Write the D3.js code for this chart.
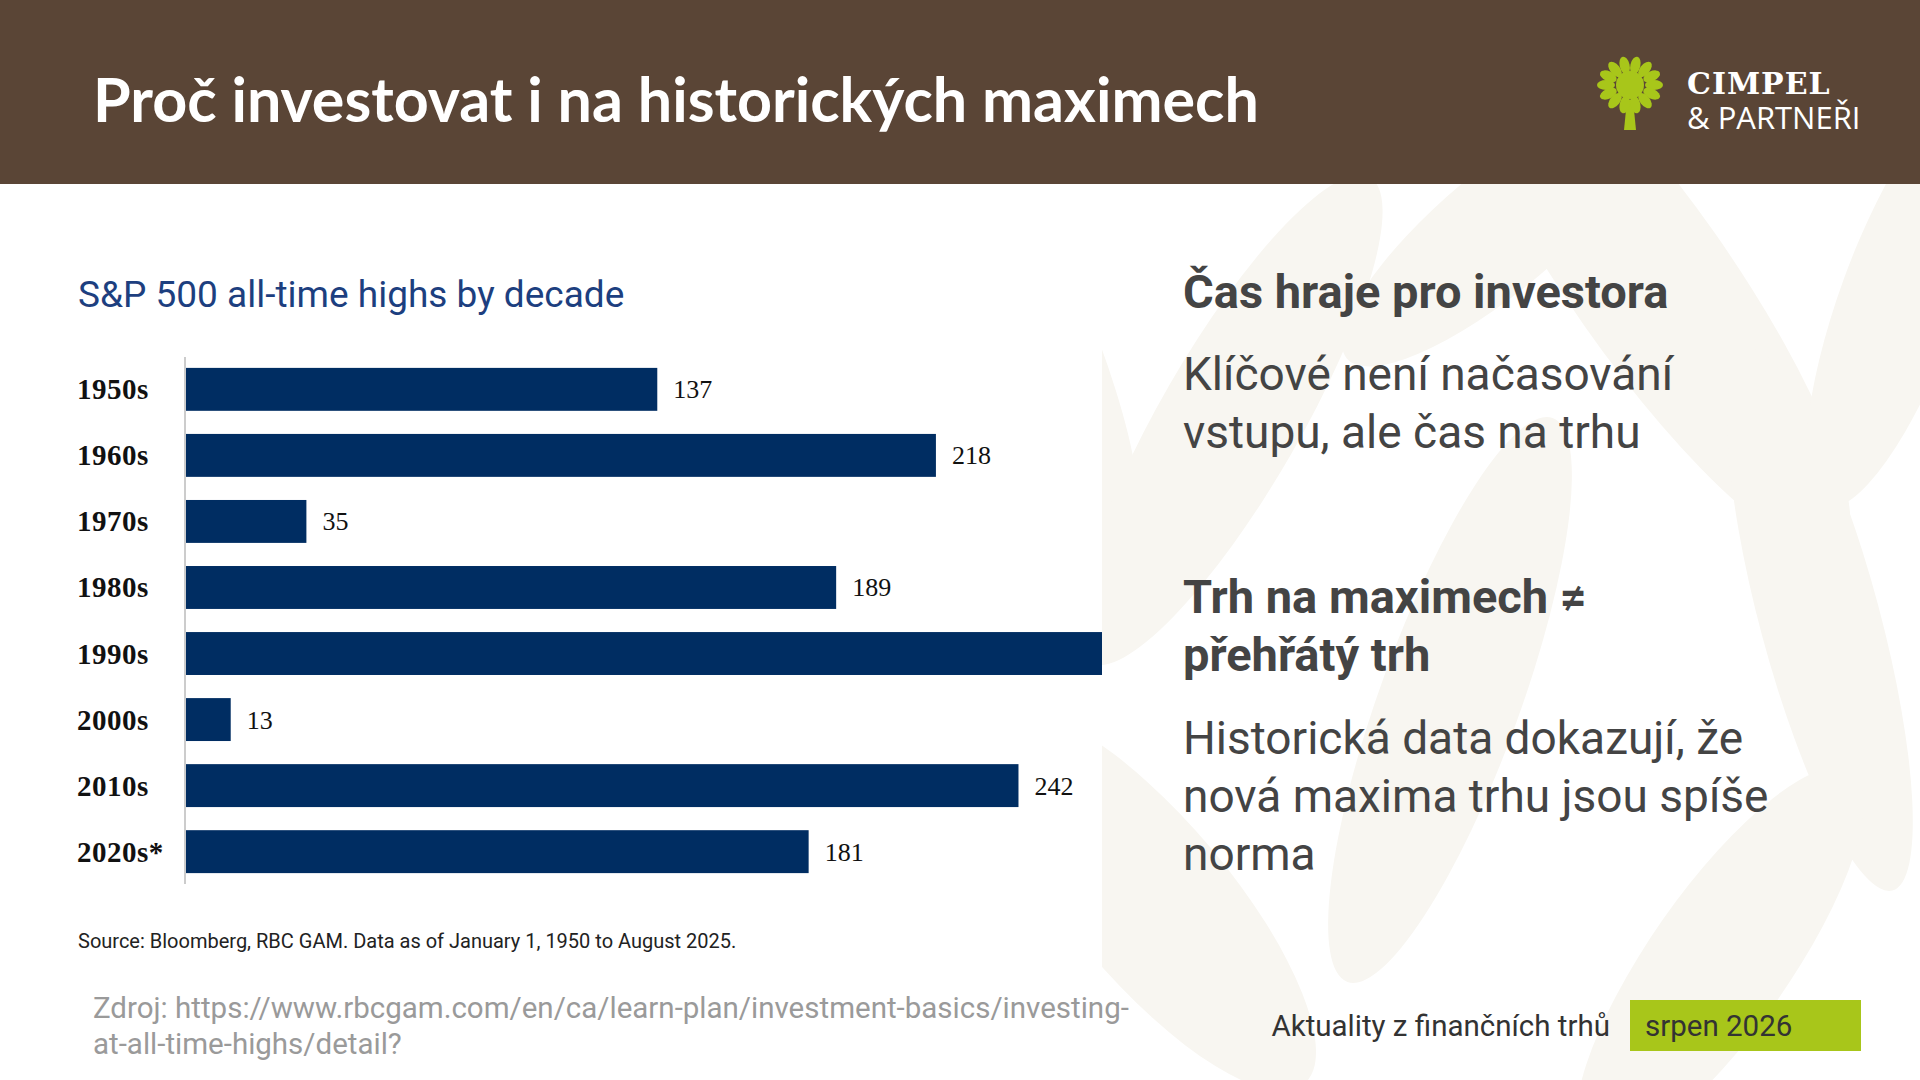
<!DOCTYPE html>
<html>
<head>
<meta charset="utf-8">
<script src="https://cdn.jsdelivr.net/npm/d3@7"></script>
<style>
body { margin: 0; background: #fff; }
svg { display: block; }
</style>
</head>
<body>
<svg id="chart"></svg>
<script>
var decades = ["1950s", "1960s", "1970s", "1980s", "1990s", "2000s", "2010s", "2020s*"];
var highs = [137, 218, 35, 189, 310, 13, 242, 181];

var W = 1920, H = 1080;
var svg = d3.select("#chart").attr("width", W).attr("height", H);

// faint leaf pattern on the background
var deco = svg.append("g").attr("fill", "#f8f6f1");
[[1000, 260, 60, 300, -25], [1230, 420, 70, 280, 30], [1650, 280, 80, 330, -35],
 [1450, 700, 70, 300, 20], [1820, 620, 60, 280, -15], [1150, 900, 80, 240, -40],
 [1720, 960, 70, 230, 35], [1500, 230, 60, 200, 50], [1900, 300, 60, 220, 20]].forEach(function (e) {
  deco.append("ellipse").attr("cx", e[0]).attr("cy", e[1]).attr("rx", e[2]).attr("ry", e[3])
    .attr("transform", "rotate(" + e[4] + "," + e[0] + "," + e[1] + ")");
});
svg.append("rect").attr("x", 0).attr("y", 184).attr("width", 1102).attr("height", 785).attr("fill", "#fff");

// header
svg.append("rect").attr("width", W).attr("height", 184).attr("fill", "#5a4536");
svg.append("text").attr("x", 93).attr("y", 122).attr("fill", "#fff")
  .style("font", "bold 61px Lato").text("Proč investovat i na historických maximech");

// logo
var logo = svg.append("g").attr("transform", "translate(1630,95)");
logo.append("path").attr("d", "M-6,35 L-3,5 L3,5 L6,35 Z").attr("fill", "#a8c61a");
for (var k = 0; k < 14; k++) {
  var a = k / 14 * Math.PI * 2;
  logo.append("ellipse").attr("cx", Math.cos(a) * 24).attr("cy", -10 + Math.sin(a) * 20)
    .attr("rx", 9).attr("ry", 5).attr("fill", "#a8c61a")
    .attr("transform", "rotate(" + (a * 180 / Math.PI) + "," + (Math.cos(a) * 24) + "," + (-10 + Math.sin(a) * 20) + ")");
}
logo.append("circle").attr("cx", 0).attr("cy", -10).attr("r", 14).attr("fill", "#a8c61a");
svg.append("text").attr("x", 1687).attr("y", 94).attr("fill", "#fff")
  .style("font", "bold 30px 'DejaVu Serif'").attr("letter-spacing", 1).text("CIMPEL");
svg.append("text").attr("x", 1687).attr("y", 129).attr("fill", "#fff")
  .style("font", "31px 'Open Sans'").text("& PARTNEŘI");

// chart
svg.append("text").attr("x", 78).attr("y", 307).attr("fill", "#1d3f7f")
  .style("font", "37px Roboto").text("S&P 500 all-time highs by decade");

var x0 = 186;
var x = d3.scaleLinear().domain([0, 100]).range([x0, x0 + 344]);
var y = d3.scaleBand().domain(decades).range([356, 885]).paddingInner(0.35).paddingOuter(0.18);

svg.append("defs").append("clipPath").attr("id", "cp")
  .append("rect").attr("x", 0).attr("y", 184).attr("width", 1102).attr("height", 785);

var g = svg.append("g").attr("clip-path", "url(#cp)");
g.selectAll("rect.bar").data(highs).enter().append("rect")
  .attr("x", x0).attr("y", function (d, i) { return y(decades[i]); })
  .attr("width", function (d) { return x(d) - x0; }).attr("height", y.bandwidth())
  .attr("fill", "#002d62");
g.selectAll("text.val").data(highs).enter().append("text")
  .attr("x", function (d) { return x(d) + 16; })
  .attr("y", function (d, i) { return y(decades[i]) + y.bandwidth() / 2 + 9; })
  .style("font", "26px 'Liberation Serif'").attr("fill", "#111").text(function (d) { return d; });

svg.append("line").attr("x1", 185).attr("x2", 185).attr("y1", 357).attr("y2", 884)
  .attr("stroke", "#ccc").attr("stroke-width", 2);
svg.selectAll("text.cat").data(decades).enter().append("text")
  .attr("x", 77).attr("y", function (d) { return y(d) + y.bandwidth() / 2 + 10; })
  .style("font", "bold 29px 'Liberation Serif'").attr("letter-spacing", 0.5).attr("fill", "#111").text(function (d) { return d; });

svg.append("text").attr("x", 78).attr("y", 948).attr("fill", "#222")
  .style("font", "20px Roboto").text("Source: Bloomberg, RBC GAM. Data as of January 1, 1950 to August 2025.");

svg.append("text").attr("x", 93).attr("y", 1018).attr("fill", "#9a9a9a")
  .style("font", "29.5px Roboto").text("Zdroj: https://www.rbcgam.com/en/ca/learn-plan/investment-basics/investing-");
svg.append("text").attr("x", 93).attr("y", 1054).attr("fill", "#9a9a9a")
  .style("font", "29.5px Roboto").text("at-all-time-highs/detail?");

// right column
var rt = [
  ["Čas hraje pro investora", 308, true],
  ["Klíčové není načasování", 390, false],
  ["vstupu, ale čas na trhu", 448, false],
  ["Trh na maximech ≠", 613, true],
  ["přehřátý trh", 671, true],
  ["Historická data dokazují, že", 754, false],
  ["nová maxima trhu jsou spíše", 812, false],
  ["norma", 870, false]
];
svg.selectAll("text.rt").data(rt).enter().append("text")
  .attr("x", 1183).attr("y", function (d) { return d[1]; }).attr("fill", "#444")
  .style("font", function (d) { return d[2] ? "bold 47px Roboto" : "46px Roboto"; })
  .text(function (d) { return d[0]; });

// footer
svg.append("text").attr("x", 1610).attr("y", 1036).attr("text-anchor", "end").attr("fill", "#333")
  .style("font", "29.5px Roboto").text("Aktuality z finančních trhů");
svg.append("rect").attr("x", 1630).attr("y", 1000).attr("width", 231).attr("height", 51).attr("fill", "#a8c61a");
svg.append("text").attr("x", 1645).attr("y", 1036).attr("fill", "#333")
  .style("font", "29.5px Roboto").text("srpen 2026");
</script>
</body>
</html>
